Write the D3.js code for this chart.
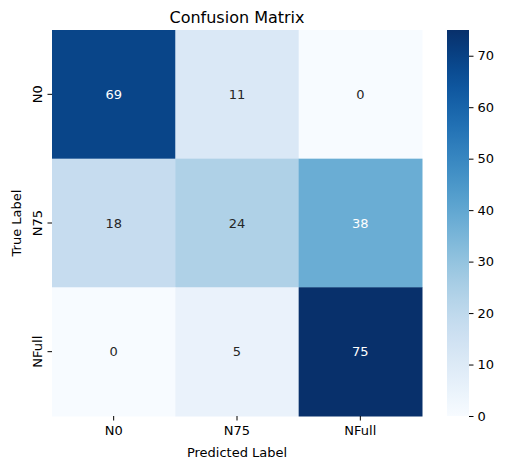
<!DOCTYPE html>
<html><head><meta charset="utf-8">
<script src="https://cdn.jsdelivr.net/npm/d3@7"></script>
<style>body{margin:0;background:#fff}text{font-family:"DejaVu Sans",sans-serif}</style>
</head><body><svg width="505" height="470"></svg>
<script>
// data
const rowLabels = ["N0", "N75", "NFull"];
const colLabels = ["N0", "N75", "NFull"];
const values = [
  [69, 11, 0],
  [18, 24, 38],
  [0, 5, 75]
];
const cbTicks = [0, 10, 20, 30, 40, 50, 60, 70];

const svg = d3.select("svg");
const mLeft = 52, mRight = 422, mTop = 30, mBottom = 416;
const color = d3.scaleSequential(d3.interpolateBlues).domain([0, 75]);

const x = d3.scaleBand().domain(colLabels).range([mLeft, mRight]);
const y = d3.scaleBand().domain(rowLabels).range([mTop, mBottom]);

// luminance check like seaborn for annotation colour
function lum(c) {
  const r = d3.rgb(c);
  const f = v => { v /= 255; return v <= 0.03928 ? v / 12.92 : Math.pow((v + 0.055) / 1.055, 2.4); };
  return 0.2126 * f(r.r) + 0.7152 * f(r.g) + 0.0722 * f(r.b);
}

const cells = [];
values.forEach((row, i) => row.forEach((v, j) => cells.push({r: rowLabels[i], c: colLabels[j], v})));

svg.selectAll("rect.cell").data(cells).enter().append("rect")
  .attr("x", d => x(d.c)).attr("y", d => y(d.r))
  .attr("width", x.bandwidth() + 0.5).attr("height", y.bandwidth() + 0.5)
  .attr("fill", d => color(d.v));

svg.selectAll("text.ann").data(cells).enter().append("text")
  .attr("x", d => x(d.c) + x.bandwidth() / 2).attr("y", d => y(d.r) + y.bandwidth() / 2)
  .attr("text-anchor", "middle").attr("dy", "0.35em").attr("font-size", 13)
  .attr("fill", d => lum(color(d.v)) > 0.408 ? "#262626" : "#fff")
  .text(d => d.v);

// axes
const xAxis = svg.append("g").attr("transform", `translate(0,${mBottom})`)
  .call(d3.axisBottom(x).tickSize(4.5).tickPadding(5));
const yAxis = svg.append("g").attr("transform", `translate(${mLeft},0)`)
  .call(d3.axisLeft(y).tickSize(4.5).tickPadding(5));
[xAxis, yAxis].forEach(a => {
  a.select(".domain").remove();
  a.selectAll("text").attr("font-size", 13).attr("fill", "#000").style("font-family", "DejaVu Sans");
  a.selectAll("line").attr("stroke", "#000");
});
yAxis.selectAll(".tick text").attr("transform", "rotate(-90)").attr("x", 0).attr("y", -10)
  .attr("dy", 0).attr("text-anchor", "middle");

svg.append("text").attr("x", (mLeft + mRight) / 2).attr("y", 23).attr("text-anchor", "middle")
  .attr("font-size", 16).text("Confusion Matrix");
svg.append("text").attr("x", (mLeft + mRight) / 2).attr("y", 457).attr("text-anchor", "middle")
  .attr("font-size", 13).text("Predicted Label");
svg.append("text").attr("transform", `translate(21,${(mTop + mBottom) / 2}) rotate(-90)`)
  .attr("text-anchor", "middle").attr("font-size", 13).text("True Label");

// colorbar
const cbX = 447, cbW = 22;
const cb = d3.scaleLinear().domain([0, 75]).range([mBottom, mTop]);
const defs = svg.append("defs");
const grad = defs.append("linearGradient").attr("id", "g").attr("x1", 0).attr("y1", 1).attr("x2", 0).attr("y2", 0);
d3.range(0, 1.01, 0.05).forEach(t => grad.append("stop").attr("offset", t).attr("stop-color", d3.interpolateBlues(t)));
svg.append("rect").attr("x", cbX).attr("y", mTop).attr("width", cbW).attr("height", mBottom - mTop).attr("fill", "url(#g)");
const cbAxis = svg.append("g").attr("transform", `translate(${cbX + cbW},0)`)
  .call(d3.axisRight(cb).tickValues(cbTicks).tickSize(4.5).tickPadding(4));
cbAxis.select(".domain").remove();
cbAxis.selectAll("text").attr("font-size", 13).attr("fill", "#000").style("font-family", "DejaVu Sans");
cbAxis.selectAll("line").attr("stroke", "#000");
</script></body></html>
